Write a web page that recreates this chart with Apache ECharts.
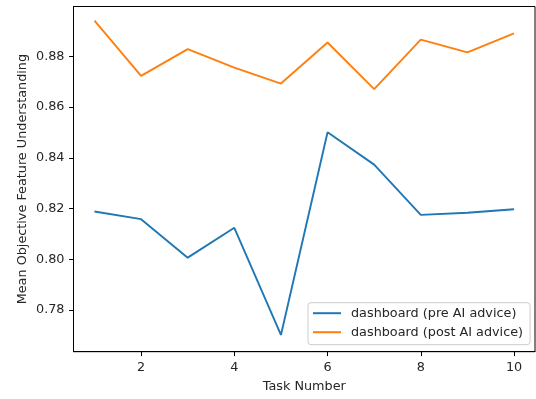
<!DOCTYPE html>
<html>
<head>
<meta charset="utf-8">
<script src="https://cdn.jsdelivr.net/npm/echarts@6/dist/echarts.min.js"></script>
<style>
  html, body { margin: 0; padding: 0; background: #fff; }
  #chart { width: 536px; height: 399px; }
</style>
</head>
<body>
<div id="chart"></div>
<script>
// Task numbers on the x axis
const tasks = [1, 2, 3, 4, 5, 6, 7, 8, 9, 10];
// Mean objective feature understanding per task
const preAdvice  = [0.8188, 0.8158, 0.8006, 0.8124, 0.7701, 0.8501, 0.8373, 0.8175, 0.8183, 0.8197];
const postAdvice = [0.8941, 0.8723, 0.8829, 0.8756, 0.8693, 0.8855, 0.8671, 0.8866, 0.8816, 0.8891];
// Tick positions
const xTicks = [2, 4, 6, 8, 10];
const yTicks = [0.78, 0.80, 0.82, 0.84, 0.86, 0.88];
const seriesNames = ['dashboard (pre AI advice)', 'dashboard (post AI advice)'];

const font = 'DejaVu Sans';
const fontSize = 12.8;
const textColor = '#262626';

function pairs(xs, ys) { return xs.map((x, i) => [x, ys[i]]); }

const chart = echarts.init(document.getElementById('chart'), null, { renderer: 'canvas' });

const axisCommon = {
  axisLine: { show: true, onZero: false, lineStyle: { color: '#000', width: 1 } },
  axisTick: { show: true, inside: false, length: 4.4, lineStyle: { color: '#000', width: 1 } },
  splitLine: { show: false },
  nameMoveOverlap: false,
  nameTextStyle: { fontFamily: font, fontSize: fontSize, color: textColor }
};

chart.setOption({
  animation: false,
  backgroundColor: '#fff',
  grid: {
    left: 73.5, right: 1, top: 6.5, bottom: 47.3,
    show: true, borderColor: '#000', borderWidth: 1, backgroundColor: 'transparent'
  },
  xAxis: Object.assign({}, axisCommon, {
    type: 'value',
    min: 0.55, max: 10.45,
    name: 'Task Number',
    nameLocation: 'middle',
    nameGap: 28,
    axisTick: Object.assign({}, axisCommon.axisTick, { customValues: xTicks }),
    axisLabel: {
      customValues: xTicks,
      margin: 9,
      fontFamily: font, fontSize: fontSize, color: textColor,
      formatter: v => String(v)
    }
  }),
  yAxis: Object.assign({}, axisCommon, {
    type: 'value',
    min: 0.7635, max: 0.8997,
    name: 'Mean Objective Feature Understanding',
    nameLocation: 'middle',
    nameGap: 44,
    axisTick: Object.assign({}, axisCommon.axisTick, { customValues: yTicks }),
    axisLabel: {
      customValues: yTicks,
      margin: 9,
      fontFamily: font, fontSize: fontSize, color: textColor,
      formatter: v => v.toFixed(2)
    }
  }),
  legend: {
    orient: 'vertical',
    left: 308, top: 302.7,
    padding: [3, 7, 5, 5],
    itemGap: 4,
    itemWidth: 28, itemHeight: 2,
    icon: 'rect',
    backgroundColor: 'rgba(255,255,255,0.8)',
    borderColor: '#cccccc', borderWidth: 1, borderRadius: 3,
    textStyle: { fontFamily: font, fontSize: fontSize, color: textColor, lineHeight: 15, padding: [0, 0, 0, 5] },
    data: seriesNames
  },
  series: [
    {
      name: seriesNames[0], type: 'line', data: pairs(tasks, preAdvice),
      symbol: 'none', color: '#1f77b4', lineStyle: { width: 1.9, color: '#1f77b4' }
    },
    {
      name: seriesNames[1], type: 'line', data: pairs(tasks, postAdvice),
      symbol: 'none', color: '#ff7f0e', lineStyle: { width: 1.9, color: '#ff7f0e' }
    }
  ]
});
</script>
</body>
</html>
